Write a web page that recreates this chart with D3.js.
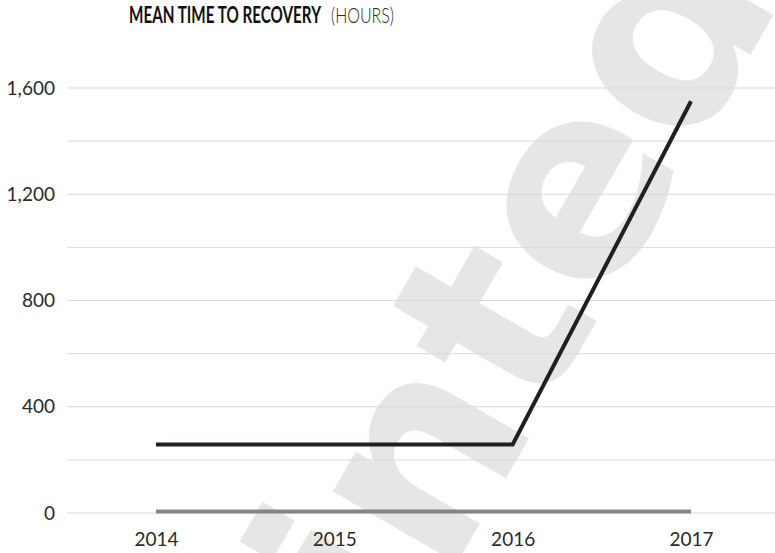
<!DOCTYPE html>
<html>
<head>
<meta charset="utf-8">
<script src="https://cdn.jsdelivr.net/npm/d3@7"></script>
<style>
  body { margin: 0; background: #fff; }
  svg { display: block; }
</style>
</head>
<body>
<div id="vis1"></div>
<script>
const FRAME_WIDTH = 775;
const FRAME_HEIGHT = 553;

// data
const years = ["2014", "2015", "2016", "2017"];
const mttr_main = [258, 258, 258, 1550];
const mttr_low = [6, 6, 6, 6];
const y_ticks = [0, 400, 800, 1200, 1600];
const grid_ticks = [0, 200, 400, 600, 800, 1000, 1200, 1400, 1600];

const FRAME1 = d3.select("#vis1")
  .append("svg")
    .attr("width", FRAME_WIDTH)
    .attr("height", FRAME_HEIGHT);

// watermark behind the chart
FRAME1.append("text")
  .attr("transform", "translate(401,660) rotate(-60)")
  .attr("font-family", "DejaVu Sans")
  .attr("font-weight", 700)
  .attr("font-size", 262)
  .attr("fill", "#e6e6e6")
  .text("inted");

const x_scale = d3.scalePoint()
  .domain(years)
  .range([156, 691]);

const y_scale = d3.scaleLinear()
  .domain([0, 1600])
  .range([513, 88]);

// gridlines
FRAME1.append("g")
  .selectAll("line")
  .data(grid_ticks)
  .join("line")
    .attr("x1", 67)
    .attr("x2", FRAME_WIDTH)
    .attr("y1", d => y_scale(d))
    .attr("y2", d => y_scale(d))
    .attr("stroke", "#d9d9d9")
    .attr("stroke-width", 1);

// y labels
const yAxis = FRAME1.append("g")
  .attr("transform", "translate(55,0)")
  .call(d3.axisLeft(y_scale).tickValues(y_ticks).tickSize(0).tickPadding(0).tickFormat(d3.format(",")));
yAxis.select(".domain").remove();
yAxis.selectAll("text")
  .attr("font-family", "Lato")
  .attr("font-size", 19)
  .attr("fill", "#2a2a2a");

// x labels
const xAxis = FRAME1.append("g")
  .attr("transform", "translate(0,532)")
  .call(d3.axisBottom(x_scale).tickSize(0).tickPadding(0));
xAxis.select(".domain").remove();
xAxis.selectAll("text")
  .attr("font-family", "Lato")
  .attr("font-size", 19)
  .attr("fill", "#2a2a2a");

const line = d3.line()
  .x((d, i) => x_scale(years[i]))
  .y(d => y_scale(d));

FRAME1.append("path")
  .datum(mttr_low)
  .attr("fill", "none")
  .attr("stroke", "#858585")
  .attr("stroke-width", 4)
  .attr("d", line);

FRAME1.append("path")
  .datum(mttr_main)
  .attr("fill", "none")
  .attr("stroke", "#231f20")
  .attr("stroke-width", 4)
  .attr("d", line);

// title, two parts
FRAME1.append("text")
  .attr("x", 129)
  .attr("y", 23)
  .attr("font-family", "Lato")
  .attr("font-size", 22)
  .attr("font-weight", 700)
  .attr("fill", "#111")
  .attr("textLength", 192)
  .attr("lengthAdjust", "spacingAndGlyphs")
  .text("MEAN TIME TO RECOVERY");
FRAME1.append("text")
  .attr("x", 331)
  .attr("y", 23)
  .attr("font-family", "Lato")
  .attr("font-size", 22)
  .attr("font-weight", 300)
  .attr("fill", "#2a2a2a")
  .attr("textLength", 63)
  .attr("lengthAdjust", "spacingAndGlyphs")
  .text("(HOURS)");
</script>
</body>
</html>
